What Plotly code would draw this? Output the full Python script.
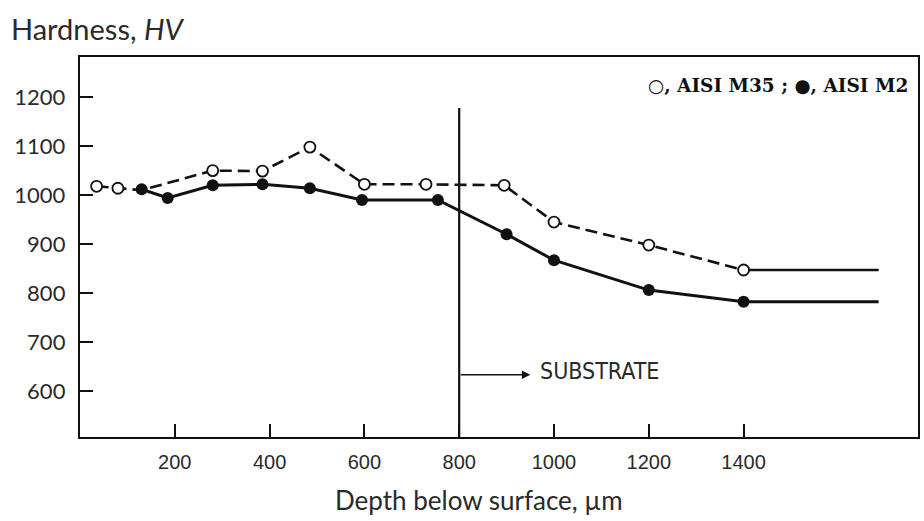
import plotly.graph_objects as go

# Data
depth_m35 = [35, 80, 130, 280, 385, 485, 600, 730, 895, 1000, 1200, 1400]
hv_m35 = [1018, 1014, 1010, 1050, 1049, 1098, 1022, 1022, 1020, 945, 898, 847]
depth_m2 = [130, 185, 280, 385, 485, 595, 755, 900, 1000, 1200, 1400]
hv_m2 = [1012, 994, 1020, 1022, 1014, 990, 990, 920, 867, 806, 782]
tail_end_depth = 1685
x_ticks = [200, 400, 600, 800, 1000, 1200, 1400]
y_ticks = [600, 700, 800, 900, 1000, 1100, 1200]
substrate_depth = 800
substrate_line_top = 1178
substrate_arrow_hv = 633
substrate_arrow_end = 950

INK = "#111111"
TXT = "#2a2a2a"

fig = go.Figure()

# M35 dashed line with open circles
fig.add_trace(go.Scatter(
    x=depth_m35, y=hv_m35, mode="lines",
    line=dict(color=INK, width=2.6, dash="12px,6px"),
    showlegend=False))
# M35 tail (solid)
fig.add_trace(go.Scatter(
    x=[depth_m35[-1], tail_end_depth], y=[hv_m35[-1], hv_m35[-1]], mode="lines",
    line=dict(color=INK, width=2.6), showlegend=False))
# M2 solid with filled circles
fig.add_trace(go.Scatter(
    x=depth_m2 + [tail_end_depth], y=hv_m2 + [hv_m2[-1]], mode="lines",
    line=dict(color=INK, width=3), showlegend=False))
fig.add_trace(go.Scatter(
    x=depth_m2, y=hv_m2, mode="markers",
    marker=dict(symbol="circle", size=12, color=INK),
    showlegend=False))
# open markers (the one under the filled point at 130 is hidden)
fig.add_trace(go.Scatter(
    x=depth_m35[:2] + depth_m35[3:], y=hv_m35[:2] + hv_m35[3:], mode="markers",
    marker=dict(symbol="circle", size=11, color="white", line=dict(color=INK, width=1.8)),
    showlegend=False))

# substrate vertical line
fig.add_trace(go.Scatter(
    x=[substrate_depth, substrate_depth], y=[505, substrate_line_top], mode="lines",
    line=dict(color=INK, width=2.2), showlegend=False))

fig.add_annotation(x=substrate_arrow_end, y=substrate_arrow_hv, ax=substrate_depth, ay=substrate_arrow_hv,
                   xref="x", yref="y", axref="x", ayref="y", text="", showarrow=True,
                   arrowhead=2, arrowsize=1.2, arrowwidth=1.4, arrowcolor=INK)
fig.add_annotation(x=substrate_arrow_end, y=substrate_arrow_hv, xref="x", yref="y",
                   text="SUBSTRATE", showarrow=False, xanchor="left", xshift=8, yshift=4,
                   font=dict(family="DejaVu Sans Condensed, Liberation Sans", size=23, color=TXT))

# legend text
fig.add_annotation(x=1, y=1, xref="paper", yref="paper", xanchor="right", yanchor="middle",
                   xshift=-8, yshift=-28,
                   text="<b>○, AISI M35 ; ●, AISI M2</b>", showarrow=False,
                   font=dict(family="DejaVu Serif", size=18.5, color=INK))

# y title
fig.add_annotation(x=0, y=1, xref="paper", yref="paper", xanchor="left", yanchor="middle",
                   xshift=-71, yshift=29, text="Hardness, <i>HV</i>", showarrow=False,
                   font=dict(family="Lato", size=29, color=TXT))
# x title
fig.add_annotation(x=842, y=0, xref="x", yref="paper", xanchor="center", yanchor="middle",
                   yshift=-63, text="Depth below surface, µm", showarrow=False,
                   font=dict(family="Lato", size=26, color=TXT))

fig.update_layout(
    width=924, height=521, margin=dict(l=80, r=4, t=57, b=84),
    paper_bgcolor="white", plot_bgcolor="white",
    xaxis=dict(range=[0, 1768], tickvals=x_ticks, ticks="inside", ticklen=13, tickwidth=1.8,
               tickcolor=INK, showline=True, linecolor=INK, linewidth=2.4, mirror=True,
               showgrid=False, zeroline=False, ticklabelstandoff=6,
               tickfont=dict(family="Liberation Sans", size=20, color=TXT)),
    yaxis=dict(range=[506, 1282], tickvals=y_ticks, ticks="inside", ticklen=13, tickwidth=1.8,
               tickcolor=INK, showline=True, linecolor=INK, linewidth=2.4, mirror=True,
               showgrid=False, zeroline=False, ticklabelstandoff=8,
               tickfont=dict(family="Lato", size=22, color=TXT)),
)

fig.write_html("out.html")
